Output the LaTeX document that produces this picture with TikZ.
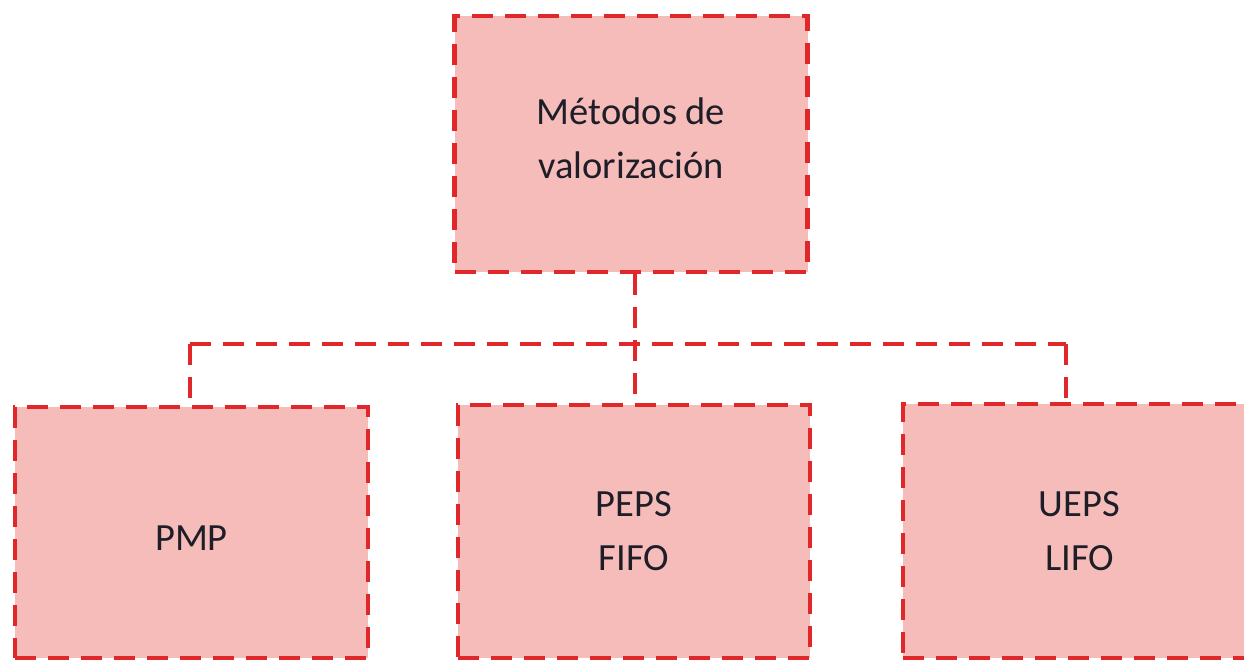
\documentclass[tikz,border=0pt]{standalone}
\usepackage{fontspec}
\setmainfont{Carlito}
\definecolor{boxfill}{HTML}{F5BCBA}
\definecolor{boxline}{HTML}{E0282A}
\definecolor{txt}{HTML}{1E1E28}
\newcommand{\shiftby}[2]{\raisebox{#1}[\height][\depth]{#2}}
\begin{document}
\begin{tikzpicture}[x=1pt,y=-1pt,
  box/.style={rectangle,draw=boxline,fill=boxfill,line width=4.5pt,
    dash pattern=on 21pt off 12pt,align=center,text=txt,
    font=\fontsize{38.5}{54}\selectfont,inner sep=0pt},
  conn/.style={draw=boxline,line width=4.5pt,dash pattern=on 21pt off 12pt}]
\useasboundingbox (0,0) rectangle (1244,661);
\begin{scope}
\clip (0,0) rectangle (1244,661);
\coordinate (j) at (635,344);
\coordinate (jl) at (190,344);
\coordinate (jr) at (1066,344);
\node[box,minimum width=353pt,minimum height=256pt] (top) at (631,144) {\shiftby{6pt}{Métodos de}\\\shiftby{6pt}{valorización}};
\node[box,minimum width=353pt,minimum height=251pt] (pmp) at (191.5,532.5) {\shiftby{-6pt}{PMP}};
\node[box,minimum width=352pt,minimum height=253pt] (peps) at (634,531.5) {PEPS\\FIFO};
\node[box,minimum width=353pt,minimum height=254pt] (ueps) at (1079.5,531) {UEPS\\LIFO};
\draw[conn] (top.south -| j) -- (j) -- (peps.north -| j);
\draw[conn] (jl) -- (jr);
\draw[conn] (jl) -- (pmp.north -| jl);
\draw[conn] (jr) -- (ueps.north -| jr);
\end{scope}
\end{tikzpicture}
\end{document}
